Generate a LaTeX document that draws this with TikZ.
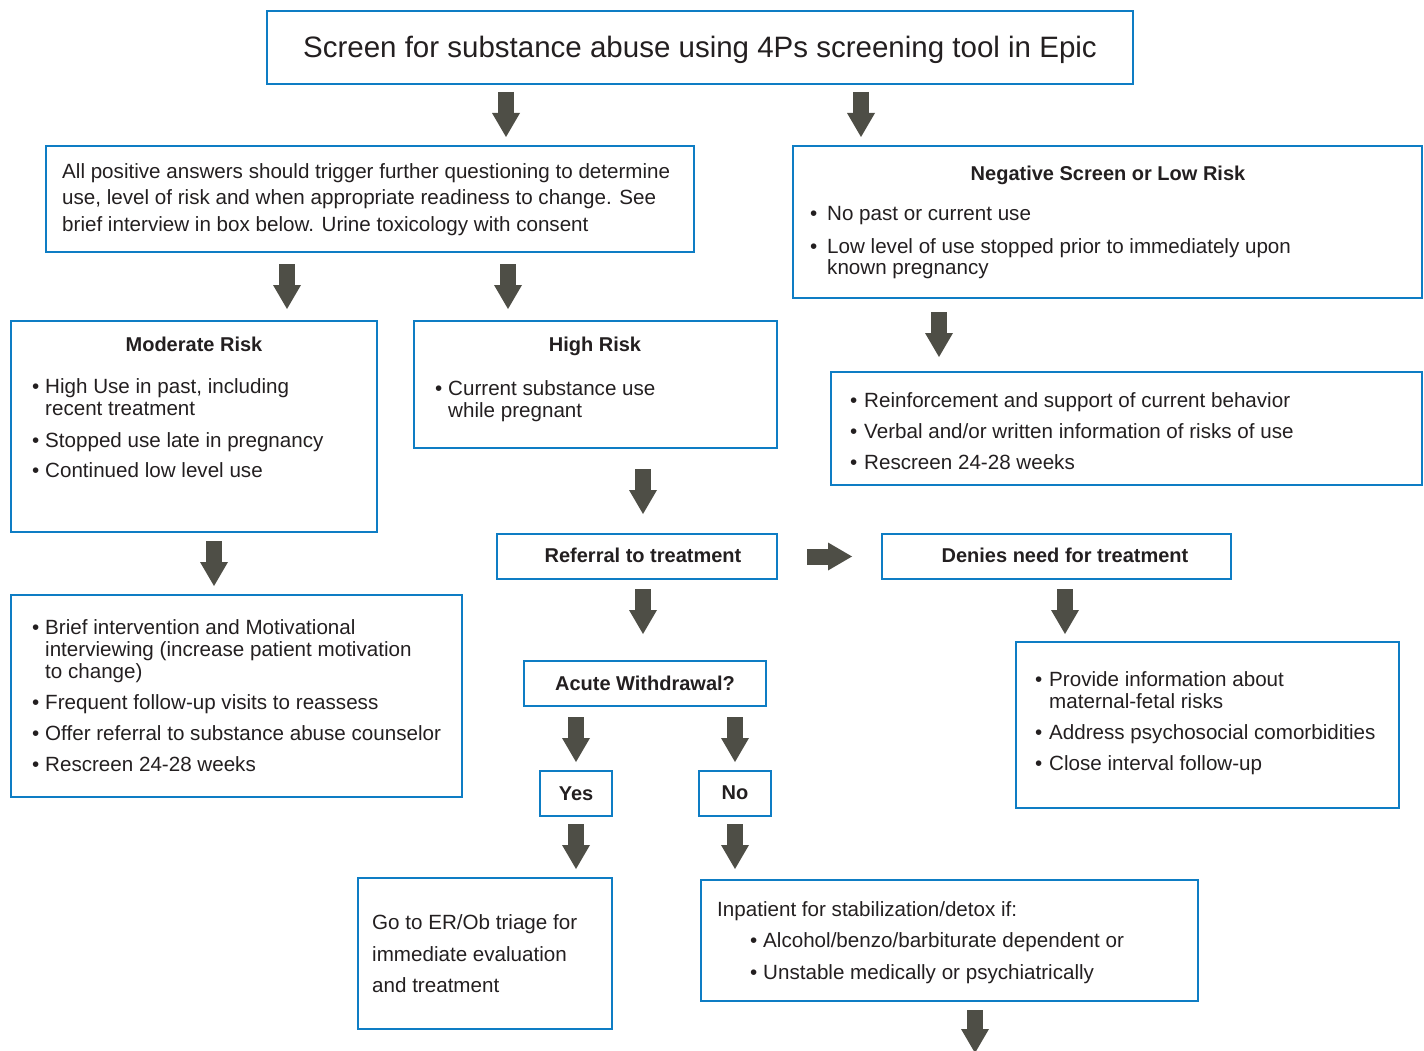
\documentclass[tikz,border=0pt]{standalone}
\usepackage{fontspec}
\setmainfont{Liberation Sans}
\usetikzlibrary{arrows.meta}
\definecolor{boxblue}{RGB}{14,125,196}
\definecolor{arrgray}{RGB}{78,78,70}
\definecolor{txtc}{RGB}{35,31,32}
\newcommand\bitem[5]{\node[body] (#1b) at (#2,#4) {•}; \node[body] (#1) at (#3,#4) {#5};}
\begin{document}
\begin{tikzpicture}[x=1pt,y=-1pt,
 box/.style={draw=boxblue, line width=2.6pt, inner sep=0pt, outer sep=0pt, anchor=north west},
 fat/.style={draw=arrgray, line width=16pt, -{Triangle[width=28pt,length=24pt,line width=0pt]}},
 body/.style={anchor=base west, inner sep=0pt, text=txtc, font=\fontsize{20.6}{24}\selectfont},
 head/.style={anchor=base, inner sep=0pt, text=txtc, font=\fontsize{20}{24}\selectfont\bfseries}
]
\useasboundingbox (0,0) rectangle (1424,1051);
% boxes
\node[box, minimum width=866pt, minimum height=73pt] (title) at (267,11) {};
\node[box, minimum width=648pt, minimum height=106pt] (pos) at (46,146) {};
\node[box, minimum width=629pt, minimum height=152pt] (neg) at (793,146) {};
\node[box, minimum width=366pt, minimum height=211pt] (mod) at (11,321) {};
\node[box, minimum width=363pt, minimum height=127pt] (high) at (414,321) {};
\node[box, minimum width=591pt, minimum height=113pt] (negf) at (831,372) {};
\node[box, minimum width=280pt, minimum height=45pt] (ref) at (497,534) {};
\node[box, minimum width=349pt, minimum height=45pt] (deny) at (882,534) {};
\node[box, minimum width=451pt, minimum height=202pt] (modf) at (11,595) {};
\node[box, minimum width=242pt, minimum height=45pt] (acute) at (524,661) {};
\node[box, minimum width=72pt, minimum height=45pt] (yes) at (540,771) {};
\node[box, minimum width=72pt, minimum height=45pt] (no) at (699,771) {};
\node[box, minimum width=383pt, minimum height=166pt] (denyf) at (1016,642) {};
\node[box, minimum width=254pt, minimum height=151pt] (er) at (358,878) {};
\node[box, minimum width=497pt, minimum height=121pt] (inp) at (701,880) {};
\coordinate (bottom) at (975,1053);
% arrows
\draw[fat, shorten <=8pt, shorten >=9pt] (506,0 |- title.south) -- (506,0 |- pos.north);
\draw[fat, shorten <=8pt, shorten >=9pt] (861,0 |- title.south) -- (861,0 |- neg.north);
\draw[fat, shorten <=12pt, shorten >=12pt] (287,0 |- pos.south) -- (287,0 |- mod.north);
\draw[fat, shorten <=12pt, shorten >=12pt] (508,0 |- pos.south) -- (508,0 |- high.north);
\draw[fat, shorten <=14pt, shorten >=15pt] (939,0 |- neg.south) -- (939,0 |- negf.north);
\draw[fat, shorten <=21pt, shorten >=20pt] (643,0 |- high.south) -- (643,0 |- ref.north);
\draw[fat, shorten <=9pt, shorten >=9pt] (214,0 |- mod.south) -- (214,0 |- modf.north);
\draw[fat, shorten <=30pt, shorten >=30pt] (ref.east) -- (deny.west);
\draw[fat, shorten <=10pt, shorten >=27pt] (643,0 |- ref.south) -- (643,0 |- acute.north);
\draw[fat, shorten <=10pt, shorten >=8pt] (1065,0 |- deny.south) -- (1065,0 |- denyf.north);
\draw[fat, shorten <=11pt, shorten >=9pt] (576,0 |- acute.south) -- (576,0 |- yes.north);
\draw[fat, shorten <=11pt, shorten >=9pt] (735,0 |- acute.south) -- (735,0 |- no.north);
\draw[fat, shorten <=8pt, shorten >=9pt] (576,0 |- yes.south) -- (576,0 |- er.north);
\draw[fat, shorten <=8pt, shorten >=11pt] (735,0 |- no.south) -- (735,0 |- inp.north);
\draw[fat, shorten <=9pt] (975,0 |- inp.south) -- (bottom);
% texts
\node[anchor=base, inner sep=0pt, text=txtc, font=\fontsize{29.5}{30}\selectfont] (ttl) at (700,57.5) {Screen for substance abuse using 4Ps screening tool in Epic};
\node[body] (p1) at (62,179) {All positive answers should trigger further questioning to determine};
\node[body] (p2) at (62,205) {use, level of risk and when appropriate readiness to change. See};
\node[body] (p3) at (62,231) {brief interview in box below. Urine toxicology with consent};
\node[head] (nh) at (1108,181) {Negative Screen or Low Risk};
\bitem{n1}{810}{827}{221}{No past or current use}
\bitem{n2}{810}{827}{253}{Low level of use stopped prior to immediately upon}
\node[body] (n3) at (827,274) {known pregnancy};
\node[head] (mh) at (194,351) {Moderate Risk};
\bitem{m1}{32}{45}{393}{High Use in past, including}
\node[body] (m2) at (45,415) {recent treatment};
\bitem{m3}{32}{45}{447}{Stopped use late in pregnancy}
\bitem{m4}{32}{45}{477}{Continued low level use}
\node[head] (hh) at (595,351) {High Risk};
\bitem{h1}{435}{448}{395}{Current substance use}
\node[body] (h2) at (448,417) {while pregnant};
\bitem{f1}{850}{864}{407}{Reinforcement and support of current behavior}
\bitem{f2}{850}{864}{438}{Verbal and/or written information of risks of use}
\bitem{f3}{850}{864}{469}{Rescreen 24-28 weeks}
\node[head] (rt) at (643,562) {Referral to treatment};
\node[head] (dt) at (1065,562) {Denies need for treatment};
\bitem{g1}{32}{45}{634}{Brief intervention and Motivational}
\node[body] (g2) at (45,656) {interviewing (increase patient motivation};
\node[body] (g3) at (45,678) {to change)};
\bitem{g4}{32}{45}{709}{Frequent follow-up visits to reassess}
\bitem{g5}{32}{45}{740}{Offer referral to substance abuse counselor}
\bitem{g6}{32}{45}{771}{Rescreen 24-28 weeks}
\node[head] (at) at (645,690) {Acute Withdrawal?};
\node[head] (yt) at (576,800) {Yes};
\node[head] (nt) at (735,799) {No};
\bitem{d1}{1035}{1049}{686}{Provide information about}
\node[body] (d2) at (1049,708) {maternal-fetal risks};
\bitem{d3}{1035}{1049}{739}{Address psychosocial comorbidities}
\bitem{d4}{1035}{1049}{770}{Close interval follow-up}
\node[body] (e1) at (372,929) {Go to ER/Ob triage for};
\node[body] (e2) at (372,961) {immediate evaluation};
\node[body] (e3) at (372,992) {and treatment};
\node[body] (i1) at (717,916) {Inpatient for stabilization/detox if:};
\bitem{i2}{750}{763}{947}{Alcohol/benzo/barbiturate dependent or}
\bitem{i3}{750}{763}{979}{Unstable medically or psychiatrically}
\end{tikzpicture}
\end{document}
